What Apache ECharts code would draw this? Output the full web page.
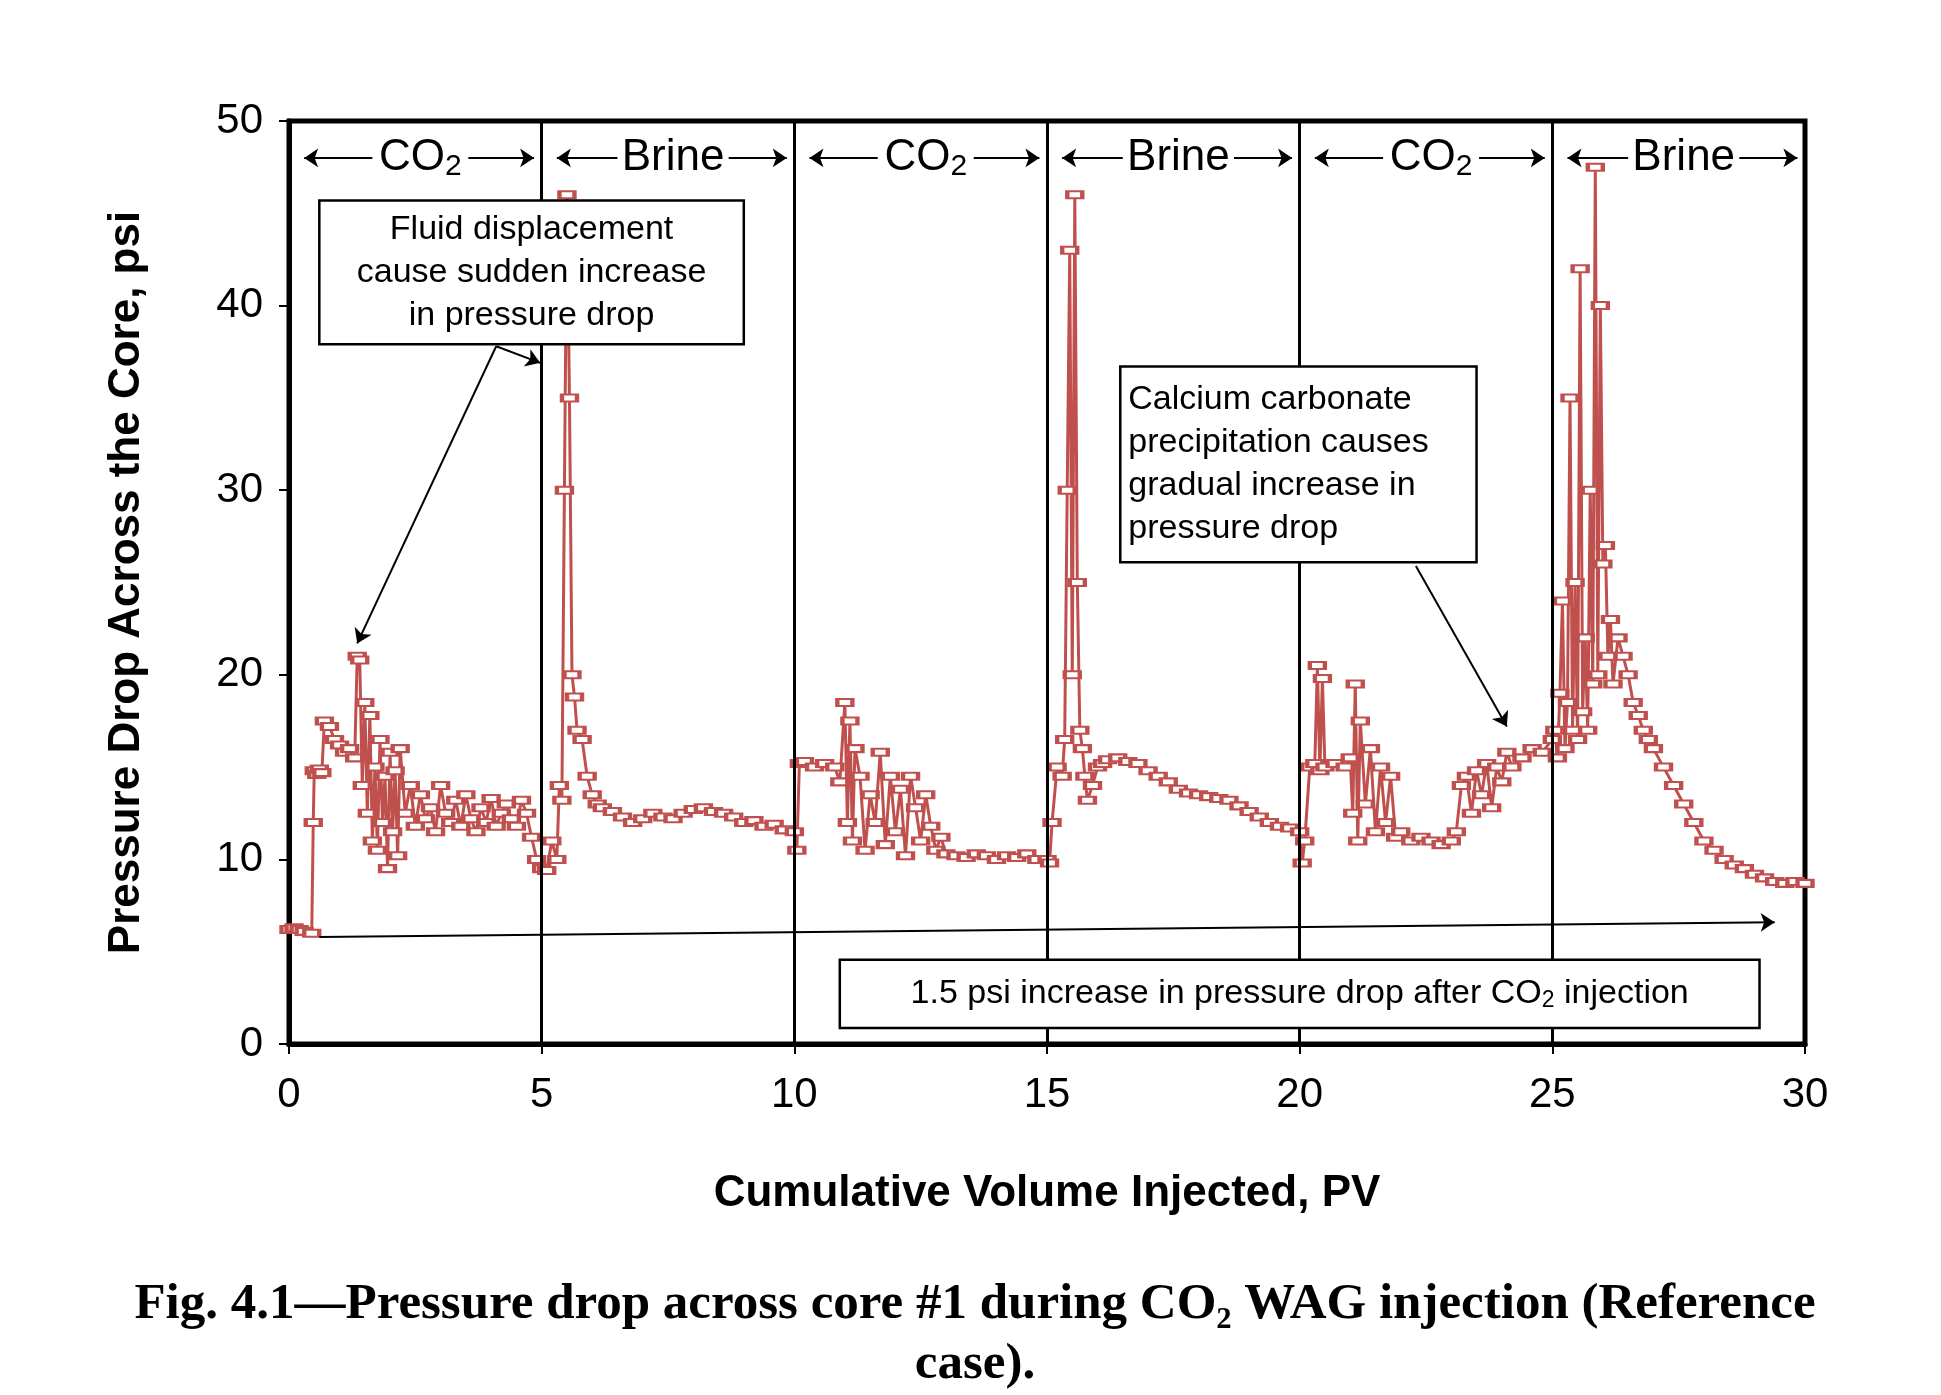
<!DOCTYPE html>
<html><head><meta charset="utf-8">
<script src="https://cdn.jsdelivr.net/npm/echarts@6/dist/echarts.min.js"></script>
<style>html,body{margin:0;background:#fff}#c{width:1941px;height:1395px}</style>
</head><body><div id="c"></div>
<script>
// cumulative volume (PV) and pressure drop (psi)
var pv = [0,0.1,0.2,0.3,0.45,0.48,0.5,0.55,0.6,0.65,0.7,0.8,0.9,1.0,1.1,1.2,1.3,1.35,1.4,1.45,1.5,1.55,1.6,1.65,1.7,1.75,1.8,1.85,1.9,1.95,2.0,2.05,2.1,2.15,2.2,2.3,2.4,2.5,2.6,2.7,2.8,2.9,3.0,3.1,3.2,3.3,3.4,3.5,3.6,3.7,3.8,3.9,4.0,4.1,4.2,4.3,4.4,4.5,4.6,4.7,4.8,4.9,5.0,5.1,5.2,5.3,5.35,5.4,5.45,5.5,5.55,5.6,5.65,5.7,5.8,5.9,6.0,6.1,6.2,6.4,6.6,6.8,7.0,7.2,7.4,7.6,7.8,8.0,8.2,8.4,8.6,8.8,9.0,9.2,9.4,9.6,9.8,10.0,
  10.05,10.1,10.2,10.4,10.6,10.8,10.9,11.0,11.05,11.1,11.15,11.2,11.3,11.4,11.5,11.6,11.7,11.8,11.9,12.0,12.1,12.2,12.3,12.4,12.5,12.6,12.7,12.8,12.9,13.0,13.2,13.4,13.6,13.8,14.0,14.2,14.4,14.6,14.8,15.0,
  15.05,15.1,15.2,15.3,15.35,15.4,15.45,15.5,15.55,15.6,15.65,15.7,15.75,15.8,15.9,16.0,16.1,16.2,16.4,16.6,16.8,17.0,17.2,17.4,17.6,17.8,18.0,18.2,18.4,18.6,18.8,19.0,19.2,19.4,19.6,19.8,20.0,
  20.05,20.1,20.2,20.3,20.35,20.4,20.45,20.5,20.7,20.9,21.0,21.05,21.1,21.15,21.2,21.3,21.4,21.5,21.6,21.7,21.8,21.9,22.0,22.2,22.4,22.6,22.8,23.0,23.1,23.2,23.3,23.4,23.5,23.6,23.7,23.8,23.9,24.0,24.1,24.2,24.4,24.6,24.8,25.0,
  25.05,25.1,25.15,25.2,25.25,25.3,25.35,25.4,25.45,25.5,25.55,25.6,25.65,25.7,25.75,25.8,25.85,25.9,25.95,26.0,26.05,26.1,26.15,26.2,26.3,26.4,26.5,26.6,26.7,26.8,26.9,27.0,27.2,27.4,27.6,27.8,28.0,28.2,28.4,28.6,28.8,29.0,29.2,29.4,29.6,29.8,30.0];
var dp = [6.2,6.3,6.2,6.1,6.0,12.0,14.8,14.6,14.9,14.7,17.5,17.2,16.5,16.2,15.8,16.0,15.5,21.0,20.8,14.0,18.5,12.5,17.8,11.0,15.0,10.5,16.5,12.0,14.5,9.5,15.8,11.5,14.8,10.2,16.0,12.5,14.0,11.8,13.5,12.2,12.8,11.5,14.0,12.5,12.0,13.2,11.8,13.5,12.2,11.5,12.8,12.0,13.3,11.8,12.5,13.0,12.2,11.8,13.2,12.5,11.2,10.0,9.5,9.4,11.0,10.0,14.0,13.2,30.0,46.0,35.0,20.0,18.8,17.0,16.5,14.5,13.5,13.0,12.8,12.6,12.3,12.0,12.2,12.5,12.3,12.2,12.5,12.7,12.8,12.6,12.5,12.3,12.0,12.1,11.8,11.9,11.6,11.5,
  10.5,15.2,15.3,15.0,15.2,15.0,14.2,18.5,12.0,17.5,11.0,16.0,14.5,10.5,13.5,12.0,15.8,10.8,14.5,11.5,13.8,10.2,14.5,12.8,11.0,13.5,11.8,10.5,11.2,10.3,10.2,10.1,10.3,10.2,10.0,10.2,10.1,10.3,10.0,10.0,
  9.8,12.0,15.0,14.5,16.5,30.0,43.0,20.0,46.0,25.0,17.0,16.0,14.5,13.2,14.0,15.0,15.2,15.4,15.5,15.3,15.2,14.8,14.5,14.2,13.8,13.6,13.5,13.4,13.3,13.2,12.9,12.6,12.3,12.0,11.8,11.7,11.5,
  9.8,11.0,15.0,15.2,20.5,14.8,19.8,15.0,15.2,15.0,15.5,12.5,19.5,11.0,17.5,13.0,16.0,11.5,15.0,12.0,14.5,11.2,11.5,11.0,11.2,11.0,10.8,11.0,11.5,14.0,14.5,12.5,14.8,13.5,15.2,12.8,15.0,14.2,15.8,15.0,15.5,16.0,15.8,16.5,
  17.0,15.5,19.0,24.0,16.0,18.5,35.0,17.0,25.0,16.5,42.0,18.0,22.0,17.0,30.0,19.5,47.5,20.0,40.0,26.0,27.0,21.0,23.0,19.5,22.0,21.0,20.0,18.5,17.8,17.0,16.5,16.0,15.0,14.0,13.0,12.0,11.0,10.5,10.0,9.7,9.5,9.2,9.0,8.8,8.7,8.8,8.7];
var xTicks = [0,5,10,15,20,25,30];
var phases = ['CO₂','Brine','CO₂','Brine','CO₂','Brine'];

var red = '#C0504D';
var chart = echarts.init(document.getElementById('c'));
var pts = pv.map(function (v, i) { return [v, dp[i]]; });
var arrowLines = [];
phases.forEach(function (p, i) {
  var s = i * 5, half = p === 'Brine' ? 1.1 : 0.95, mid = s + 2.6;
  arrowLines.push([{coord: [s + 0.3, 48], symbol: 'arrow'}, {coord: [mid - half, 48], symbol: 'none'}]);
  arrowLines.push([{coord: [mid + half, 48], symbol: 'none'}, {coord: [s + 4.85, 48], symbol: 'arrow'}]);
});
arrowLines.push([{coord: [4.1, 37.8], symbol: 'none'}, {coord: [1.35, 21.7], symbol: 'arrow'}]);
arrowLines.push([{coord: [4.1, 37.8], symbol: 'none'}, {coord: [4.97, 36.9], symbol: 'arrow'}]);
arrowLines.push([{coord: [22.3, 25.9], symbol: 'none'}, {coord: [24.1, 17.2], symbol: 'arrow'}]);
arrowLines.push([{coord: [0.6, 5.8], symbol: 'none'}, {coord: [29.4, 6.6], symbol: 'arrow'}]);
var vlines = [5,10,15,20,25].map(function (v) { return {xAxis: v}; });

chart.setOption({
  animation: false,
  grid: {left: 289, right: 136, top: 121, bottom: 351, show: true, borderColor: '#000', borderWidth: 5},
  xAxis: {type: 'value', min: 0, max: 30, interval: 5,
    name: 'Cumulative Volume Injected, PV', nameLocation: 'middle', nameGap: 128,
    nameTextStyle: {fontFamily: 'Liberation Sans', fontWeight: 'bold', fontSize: 44, color: '#000'},
    axisLine: {lineStyle: {color: '#000', width: 5}},
    axisTick: {inside: false, length: 10, lineStyle: {color: '#000', width: 2}},
    axisLabel: {fontFamily: 'Liberation Sans', fontSize: 42, color: '#000', margin: 30},
    splitLine: {show: false}},
  yAxis: {type: 'value', min: 0, max: 50, interval: 10,
    name: 'Pressure Drop Across the Core, psi', nameLocation: 'middle', nameGap: 140,
    nameTextStyle: {fontFamily: 'Liberation Sans', fontWeight: 'bold', fontSize: 44, color: '#000'},
    axisLine: {show: true, lineStyle: {color: '#000', width: 5}},
    axisTick: {show: true, length: 10, lineStyle: {color: '#000', width: 2}},
    axisLabel: {fontFamily: 'Liberation Sans', fontSize: 42, color: '#000', margin: 26},
    splitLine: {show: false}},
  series: [{
    type: 'line', data: pts, color: red,
    lineStyle: {width: 3, color: red},
    symbol: 'rect', symbolSize: [15, 7], showAllSymbol: true,
    itemStyle: {color: '#fff', borderColor: red, borderWidth: 3},
    markLine: {silent: true, symbolSize: 14, label: {show: false},
      lineStyle: {color: '#000', width: 2, type: 'solid'}, data: arrowLines},
    z: 3
  }, {
    type: 'line', data: [],
    markLine: {silent: true, symbol: 'none', label: {show: false},
      lineStyle: {color: '#000', width: 3, type: 'solid'}, data: vlines}
  }]
});

function px(x, y) { return chart.convertToPixel({gridIndex: 0}, [x, y]); }
var rich = {n: {fontFamily: 'Liberation Sans', fontSize: 44, color: '#000'},
  s: {fontFamily: 'Liberation Sans', fontSize: 30, color: '#000', verticalAlign: 'bottom', padding: [18, 0, 0, 0]}};
var g = [];
phases.forEach(function (p, i) {
  var c = px(i * 5 + 2.6, 48);
  g.push({type: 'text', x: c[0], y: c[1], z: 10, style: {
    text: p === 'Brine' ? '{n|Brine}' : '{n|CO}{s|2}', rich: rich, align: 'center', verticalAlign: 'middle'}});
});
function box(x0, y0, x1, y1, lines, align) {
  var a = px(x0, y0), b = px(x1, y1);
  g.push({type: 'rect', z: 10, shape: {x: a[0], y: a[1], width: b[0] - a[0], height: b[1] - a[1]},
    style: {fill: '#fff', stroke: '#000', lineWidth: 2.5}});
  g.push({type: 'text', z: 11, x: align === 'left' ? a[0] + 8 : (a[0] + b[0]) / 2, y: (a[1] + b[1]) / 2,
    style: {text: lines, align: align, verticalAlign: 'middle', lineHeight: 43,
      font: '34px "Liberation Sans"', fill: '#000'}});
}
box(0.6, 45.7, 9.0, 37.9, 'Fluid displacement\ncause sudden increase\nin pressure drop', 'center');
box(16.45, 36.7, 23.5, 26.1, 'Calcium carbonate\nprecipitation causes\ngradual increase in\npressure drop', 'left');
var a = px(10.9, 4.57), b = px(29.1, 0.87);
g.push({type: 'rect', z: 10, shape: {x: a[0], y: a[1], width: b[0] - a[0], height: b[1] - a[1]},
  style: {fill: '#fff', stroke: '#000', lineWidth: 2.5}});
g.push({type: 'text', z: 11, x: (a[0] + b[0]) / 2, y: (a[1] + b[1]) / 2, style: {
  text: '{m|1.5 psi increase in pressure drop after CO}{t|2}{m| injection}', align: 'center', verticalAlign: 'middle',
  rich: {m: {fontFamily: 'Liberation Sans', fontSize: 34, color: '#000'},
    t: {fontFamily: 'Liberation Sans', fontSize: 23, color: '#000', padding: [14, 0, 0, 0]}}}});
g.push({type: 'text', x: 975, y: 1275, style: {
  text: 'Fig. 4.1—Pressure drop across core #1 during CO₂ WAG injection (Reference\ncase).',
  align: 'center', lineHeight: 60, font: 'bold 51px "Liberation Serif"', fill: '#000'}});
chart.setOption({graphic: g});
</script></body></html>
